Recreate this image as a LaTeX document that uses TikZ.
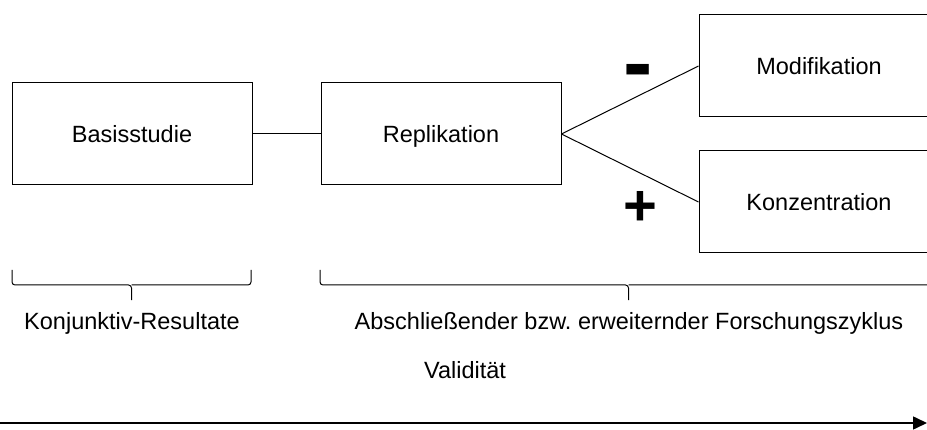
\documentclass[tikz,border=0pt]{standalone}
\usepackage{fontspec}
\setmainfont{Liberation Sans}
\usetikzlibrary{positioning,arrows.meta}

\begin{document}
\begin{tikzpicture}[
    x=1pt, y=1pt,
    font=\fontsize{23.5}{28}\selectfont,
    % Réglages des boîtes et des traits
    boite/.style={draw, line width=1pt, minimum width=240pt, minimum height=102pt,
        text height=19pt, text depth=2pt},
    lien/.style={draw, line width=1pt},
    accolade/.style={draw, line width=1pt, rounded corners=3pt},
    signe/.style={font=\fontsize{58}{58}\selectfont\bfseries},
    fleche/.style={-{Triangle[length=14pt, width=13pt]}, line width=1.6pt}
]
\clip (0,0) rectangle (927,429);
% Boîtes
\node[boite] (basis) at (132,295) {Basisstudie};
\node[boite, right=68pt of basis] (repl) {Replikation};
\node[boite, right=137pt of repl, yshift=68pt] (modif) {Modifikation};
\node[boite, right=137pt of repl, yshift=-68pt] (konz) {Konzentration};
% Liaisons
\draw[lien] (basis) -- (repl);
\draw[lien] (repl.east) -- (modif.west);
\draw[lien] (repl.east) -- (konz.west);
\node[signe] (moins) at (638,351) {\fontsize{88}{88}\selectfont -};
\node[signe] (plus) at (640,221) {+};
% Accolades
\draw[accolade] (12,159) |- (131.5,144) -- (131.5,129);
\draw[accolade] (251,159) |- (131.5,144);
\draw[accolade] (320,159) |- (628.5,144) -- (628.5,129);
\draw[accolade] (937,159) |- (628.5,144);
% Textes
\node (konj) at (132,106) {Konjunktiv-Resultate};
\node (zyklus) at (629,106) {Abschließender bzw.\ erweiternder Forschungszyklus};
\node (valid) at (465,59) {Validität};
% Flèche
\coordinate (debut) at (0,6);
\coordinate (fin) at (927,6);
\draw[fleche] (debut) -- (fin);
\end{tikzpicture}
\end{document}
